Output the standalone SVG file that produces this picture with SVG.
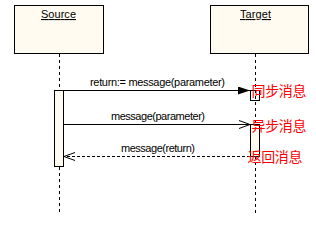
<svg xmlns="http://www.w3.org/2000/svg" width="316" height="226" viewBox="0 0 316 226">
<style>
.box{fill:#fffbf0;stroke:#000;stroke-width:1}
.life{stroke:#000;stroke-width:1;stroke-dasharray:3,3;fill:none}
.msg{stroke:#000;stroke-width:1;fill:none}
.ret{stroke:#000;stroke-width:1;stroke-dasharray:3,2;fill:none}
.lbl{font-family:"Liberation Sans",Arial,sans-serif;font-size:11px;fill:#000}
.cn{font-family:"Noto Sans CJK SC","Liberation Sans",sans-serif;font-size:14px;fill:#ff0000}
</style>
<defs>
<marker id="filled" markerWidth="12" markerHeight="8" refX="12" refY="4" orient="auto" markerUnits="userSpaceOnUse">
<path d="M0,0 L12,4 L0,8 Z" fill="#000"/>
</marker>
<marker id="open" markerWidth="12" markerHeight="10" refX="11" refY="5" orient="auto" markerUnits="userSpaceOnUse">
<path d="M0,1 L11,5 L0,9" fill="none" stroke="#000" stroke-width="1"/>
</marker>
</defs>
<rect width="316" height="226" fill="#fff"/>
<g id="source">
<rect class="box" x="14.5" y="5.5" width="89" height="48"/>
<text class="lbl" x="41" y="18" textLength="35" text-decoration="underline">Source</text>
<line class="life" x1="59.5" y1="54" x2="59.5" y2="90"/>
<line class="life" x1="59.5" y1="167" x2="59.5" y2="214"/>
<rect class="box" x="54.5" y="90.5" width="9" height="76"/>
</g>
<g id="target">
<rect class="box" x="210.5" y="5.5" width="98" height="48"/>
<text class="lbl" x="240" y="18" textLength="31" text-decoration="underline">Target</text>
<line class="life" x1="255.5" y1="54" x2="255.5" y2="214"/>
<rect x="250.5" y="90.5" width="9" height="10" fill="none" stroke="#000"/>
<rect class="box" x="250.5" y="124.5" width="9" height="32"/>
</g>
<g id="connectors">
<line class="msg" x1="64" y1="90.5" x2="250" y2="90.5" marker-end="url(#filled)"/>
<text class="lbl" x="90" y="86" textLength="135">return:= message(parameter)</text>
<line class="msg" x1="64" y1="124.5" x2="250" y2="124.5" marker-end="url(#open)"/>
<text class="lbl" x="111" y="120" textLength="94">message(parameter)</text>
<line class="ret" x1="250" y1="156.5" x2="64" y2="156.5" marker-end="url(#open)"/>
<text class="lbl" x="121" y="151.5" textLength="74">message(return)</text>
</g>
<g id="notes">
<text class="cn" x="251.5" y="96" textLength="55">同步消息</text>
<text class="cn" x="251.5" y="131" textLength="55">异步消息</text>
<text class="cn" x="247.5" y="162" textLength="55">返回消息</text>
</g>
</svg>
